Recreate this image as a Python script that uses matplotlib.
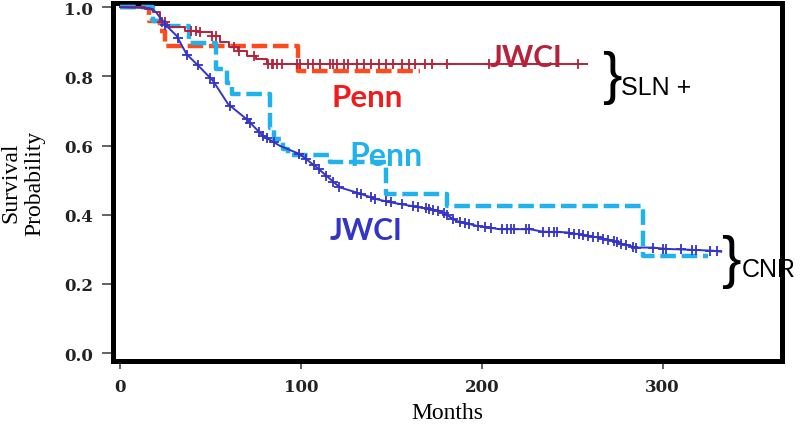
import numpy as np
import matplotlib
matplotlib.use("Agg")
import matplotlib.pyplot as plt

# ---------------- data ----------------
# JWCI, CNR group (blue solid, censor marks)
jwci_cnr_t = [0, 16.6, 20, 24.9, 31.3, 36.8, 44.2, 51.4, 59.7, 70.0, 79.0, 88.4, 99.4,
              108.7, 121.5, 130.8, 141.8, 149.2, 160.2, 176.8, 186.0, 197.1, 209.9,
              226.5, 233.7, 246.8, 261.3, 270.7, 277.9, 285.5, 294.5, 302.0, 313.1,
              327.6, 332.4]
jwci_cnr_s = [1.0, 0.997, 0.985, 0.950, 0.917, 0.864, 0.826, 0.787, 0.720, 0.676, 0.628,
              0.599, 0.575, 0.537, 0.479, 0.464, 0.445, 0.436, 0.426, 0.411, 0.382,
              0.368, 0.358, 0.358, 0.351, 0.349, 0.337, 0.327, 0.315, 0.305, 0.305,
              0.301, 0.299, 0.296, 0.293]
jwci_cnr_censor = [25, 32, 37, 43, 50, 52, 61, 70, 72, 77, 79, 81, 85, 99, 103, 107, 110,
                   114, 118, 121, 131, 133, 139, 141, 147, 150, 156, 162, 165, 169, 171,
                   173, 176, 179, 181, 184, 188, 191, 193, 198, 202, 205, 211, 214, 216,
                   218, 224.5, 226, 234, 237, 240, 241.7, 248, 251, 253.5, 256, 259,
                   261.7, 264, 267, 270, 273, 275, 277, 280, 283.7, 285.5, 294.5, 300,
                   302, 310, 316, 318.6, 326, 330]

# JWCI, SLN+ group (dark red solid, censor marks)
jwci_sln_t = [0, 14, 18, 22, 26, 36, 44, 51, 55, 60, 65, 70, 75, 81, 258]
jwci_sln_s = [1.0, 0.994, 0.986, 0.957, 0.942, 0.932, 0.927, 0.917, 0.898, 0.885, 0.872,
              0.859, 0.850, 0.836, 0.836]
jwci_sln_censor = [23, 25, 39, 42, 44, 51, 53, 63, 66, 74, 82, 84, 84.5, 86.7, 89.5, 97.8,
                   99.4, 104, 106.6, 110.5, 116, 117.7, 120, 124, 126, 131, 135, 139, 143,
                   147, 151, 155.8, 160, 163, 168.5, 172.4, 181, 204, 253]

# Penn, SLN+ group (orange dashed)
penn_sln_t = [0, 16, 22, 25, 98.5, 166]
penn_sln_s = [1.0, 0.96, 0.93, 0.888, 0.816, 0.816]

# Penn, CNR group (cyan dashed)
penn_cnr_t = [0, 18, 23, 38, 53, 59, 62, 83, 85, 90, 93, 116, 147, 181, 289, 325]
penn_cnr_s = [1.0, 0.96, 0.945, 0.895, 0.82, 0.78, 0.749, 0.65, 0.62, 0.59, 0.572,
              0.552, 0.460, 0.425, 0.280, 0.280]

x_ticks = [0, 100, 200, 300]
y_ticks = [0.0, 0.2, 0.4, 0.6, 0.8, 1.0]

# ---------------- colours ----------------
C_BLUE = "#3434c8"
C_DRED = "#b5223a"
C_ORANGE = "#ff4a1c"
C_CYAN = "#1fb2ec"
C_PENN_RED = "#f21a1a"

fig = plt.figure(figsize=(8.0, 4.27), dpi=100)
ax = fig.add_axes([113 / 800, 1 - 362 / 427, (782 - 113) / 800, (362 - 4) / 427])


def step_val(t_arr, s_arr, t):
    idx = np.searchsorted(np.asarray(t_arr), t, side="right") - 1
    return np.asarray(s_arr)[idx]


# Penn dashed curves
ax.plot(penn_sln_t, penn_sln_s, drawstyle="steps-post", color=C_ORANGE, lw=3.2,
        dashes=(3.5, 1.3), zorder=3)
ax.plot(penn_cnr_t, penn_cnr_s, drawstyle="steps-post", color=C_CYAN, lw=3.2,
        dashes=(3.5, 1.3), zorder=3)

# JWCI curves
ax.plot(jwci_sln_t, jwci_sln_s, drawstyle="steps-post", color=C_DRED, lw=1.4, zorder=4)
ax.plot(jwci_sln_censor, step_val(jwci_sln_t, jwci_sln_s, jwci_sln_censor), ls="none",
        marker="+", ms=7, mew=1.3, color=C_DRED, zorder=4)

ax.plot(jwci_cnr_t, jwci_cnr_s, color=C_BLUE, lw=1.4, zorder=4)
ax.plot(jwci_cnr_censor, np.interp(jwci_cnr_censor, jwci_cnr_t, jwci_cnr_s), ls="none",
        marker="+", ms=7, mew=1.3, color=C_BLUE, zorder=4)

# axes
ax.set_xlim(-3.9, 366)
ax.set_ylim(-0.023, 1.012)
ax.set_xticks(x_ticks)
ax.set_yticks(y_ticks)
ax.set_xticklabels([str(v) for v in x_ticks])
ax.set_yticklabels([f"{v:.1f}" for v in y_ticks])
for sp in ax.spines.values():
    sp.set_linewidth(3.6)
    sp.set_color("black")
ax.tick_params(axis="y", length=8, width=1.3, color="#555555", pad=6.5)
ax.tick_params(axis="x", length=6, width=1.3, color="#555555", pad=6)
for lab in ax.get_xticklabels() + ax.get_yticklabels():
    lab.set_fontfamily("DejaVu Serif")
    lab.set_fontweight("bold")
    lab.set_fontsize(12)
    lab.set_color("#222222")

# curve labels
ax.text(204.4, 0.829, "JWCI", color=C_DRED, va="baseline", ha="left", zorder=5,
        family="Lato", fontweight="bold", fontsize=21.5)
ax.text(117, 0.714, "Penn", color=C_PENN_RED, va="baseline", ha="left", zorder=5,
        family="Lato", fontweight="bold", fontsize=22.5)
ax.text(127, 0.543, "Penn", color=C_CYAN, va="baseline", ha="left", zorder=5,
        family="Lato", fontweight="bold", fontsize=23)
ax.text(116, 0.329, "JWCI", color=C_BLUE, va="baseline", ha="left", zorder=5,
        family="Lato", fontweight="bold", fontsize=21.5)

# braces and group names
ax.text(271.8, 0.798, "}", fontsize=42, family="Liberation Sans", ha="center",
        va="center", clip_on=False)
ax.text(277, 0.770, "SLN +", fontsize=18, family="Liberation Sans", ha="left",
        va="center", clip_on=False)
ax.text(337.6, 0.266, "}", fontsize=42, family="Liberation Sans", ha="center",
        va="center", clip_on=False)
ax.text(344, 0.243, "CNR", fontsize=18, family="Liberation Sans", ha="left",
        va="center", clip_on=False, zorder=0)

# axis titles
fig.text(23 / 800, 1 - 183 / 427, "Survival\nProbability", rotation=90, ha="center",
         va="center", family="Liberation Serif", fontsize=17, linespacing=1.2)
fig.text(447 / 800, 1 - 414 / 427, "Months", ha="center", va="center",
         family="Liberation Serif", fontsize=17)

fig.savefig("out.png", dpi=100)
